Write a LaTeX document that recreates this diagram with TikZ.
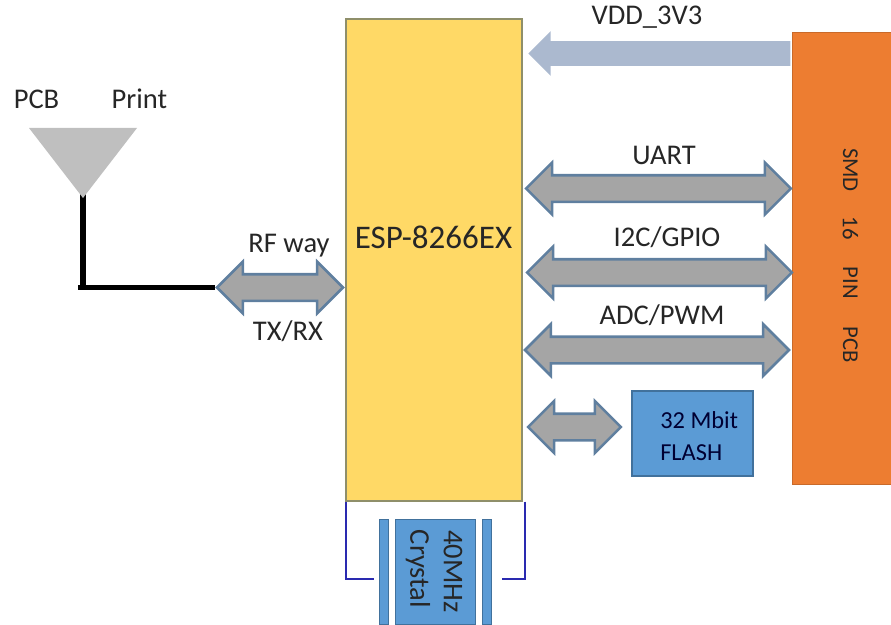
\documentclass[tikz,border=0pt]{standalone}
\usepackage{fontspec}
\setmainfont{Carlito}
\usetikzlibrary{shapes.arrows}
\definecolor{espfill}{HTML}{FFD966}
\definecolor{espline}{HTML}{8F8F6A}
\definecolor{smdfill}{HTML}{ED7D31}
\definecolor{bluefill}{HTML}{5B9BD5}
\definecolor{blueline}{HTML}{41719C}
\definecolor{busfill}{HTML}{A5A5A5}
\definecolor{busline}{HTML}{5F7F9F}
\definecolor{vddfill}{HTML}{ABB9CF}
\definecolor{wire}{HTML}{2A2AB0}
\definecolor{ink}{HTML}{262626}
\tikzset{
  x=0.75pt, y=-0.75pt,
  box/.style={draw, line width=1.1pt, inner sep=0pt, text=black},
  bus/.style={shape=double arrow, double arrow head extend=9.5pt, fill=busfill, draw=busline,
    line width=1.9pt, inner sep=9pt, minimum width=37pt},
  lab/.style={text=ink, inner sep=0pt, font=\fontsize{21.4pt}{24pt}\selectfont},
  side/.style={lab, rotate=-90, font=\fontsize{17pt}{20pt}\selectfont},
  xtal/.style={lab, rotate=-90, text=black!85, font=\fontsize{21.4pt}{24pt}\selectfont},
  flashtxt/.style={lab, text=black!80!blue, anchor=west, font=\fontsize{18.3pt}{22pt}\selectfont},
  plate/.style={fill=bluefill, draw=blueline, line width=0.6pt, inner sep=0pt, minimum width=6.75pt, minimum height=78.75pt},
  wirep/.style={draw=wire, line width=1.4pt},
}
\begin{document}
\begin{tikzpicture}
\useasboundingbox (0,0) rectangle (891,624);
% blocks
\node[box, draw=espline, fill=espfill, minimum width=132pt, minimum height=361.5pt] (esp) at (434,260) {};
\node[lab, font=\fontsize{24.75pt}{28pt}\selectfont] (esplab) at (433.5,237) {ESP-8266EX};
\node[box, draw=smdfill!85!black, line width=0.6pt, fill=smdfill, minimum width=90pt, minimum height=339pt] (smd) at (852,258) {};
\node[box, draw=blueline, fill=bluefill, minimum width=90.75pt, minimum height=63.75pt] (flash) at (692.5,433.5) {};
\node[flashtxt] (flash1) at (660,420) {32 Mbit};
\node[flashtxt] (flash2) at (660,453) {FLASH};
% SMD labels
\node[side] (s1) at (850.5,170) {SMD};
\node[side] (s2) at (850.5,228) {16};
\node[side] (s3) at (850.5,283) {PIN};
\node[side] (s4) at (850.5,345) {PCB};
% buses
\node[shape=single arrow, single arrow head extend=7.5pt, fill=vddfill, inner sep=9pt, minimum width=32.5pt, minimum height=196.5pt, shape border rotate=180, anchor=tip] (vdd) at (528,53.5) {};
\node[bus, minimum height=198.5pt] (uart) at (658.5,188.5) {};
\node[bus, minimum height=198.5pt] (i2c) at (659.5,272.5) {};
\node[bus, minimum height=198pt] (adc) at (657,350) {};
\node[bus, minimum height=69.5pt] (flbus) at (574.5,427) {};
\node[bus, minimum height=94.5pt] (rf) at (280,287.5) {};
% bus labels
\node[lab] (vddlab) at (647,17) {VDD\_3V3};
\node[lab] (uartlab) at (664,155) {UART};
\node[lab] (i2clab) at (667,237) {I2C/GPIO};
\node[lab] (adclab) at (662,315) {ADC/PWM};
\node[lab] (rflab) at (289,246) {RF way};
\node[lab] (txlab) at (288,331) {TX/RX};
% antenna
\coordinate (ant) at (83,190);
\coordinate (corner) at (78,0 |- rf.west);
\draw[line width=4pt] (ant) -- (83,0 |- rf.west);
\draw[line width=4pt] (corner) -- (rf.west);
\fill[black!25] (29,128) -- (137,128) -- (83,198) -- cycle;
\node[lab] (pcb) at (36.5,99) {PCB};
\node[lab] (print) at (139.5,99) {Print};
% crystal
\node[plate] (plateL) at (383.5,571.5) {};
\node[plate] (plateR) at (486.5,571.5) {};
\node[fill=bluefill, draw=blueline, line width=0.6pt, inner sep=0pt, minimum width=60pt, minimum height=78.75pt] (xtal) at (435,571.5) {};
\node[xtal] (x1) at (453,571.5) {40MHz};
\node[xtal] (x2) at (418,569) {Crystal};
% crystal wires
\coordinate (wl) at (374,579);
\coordinate (wr) at (502,579);
\draw[wirep] (esp.south west) ++(1,0) |- (wl);
\draw[wirep] (esp.south east) ++(2,0) |- (wr);
\end{tikzpicture}
\end{document}
